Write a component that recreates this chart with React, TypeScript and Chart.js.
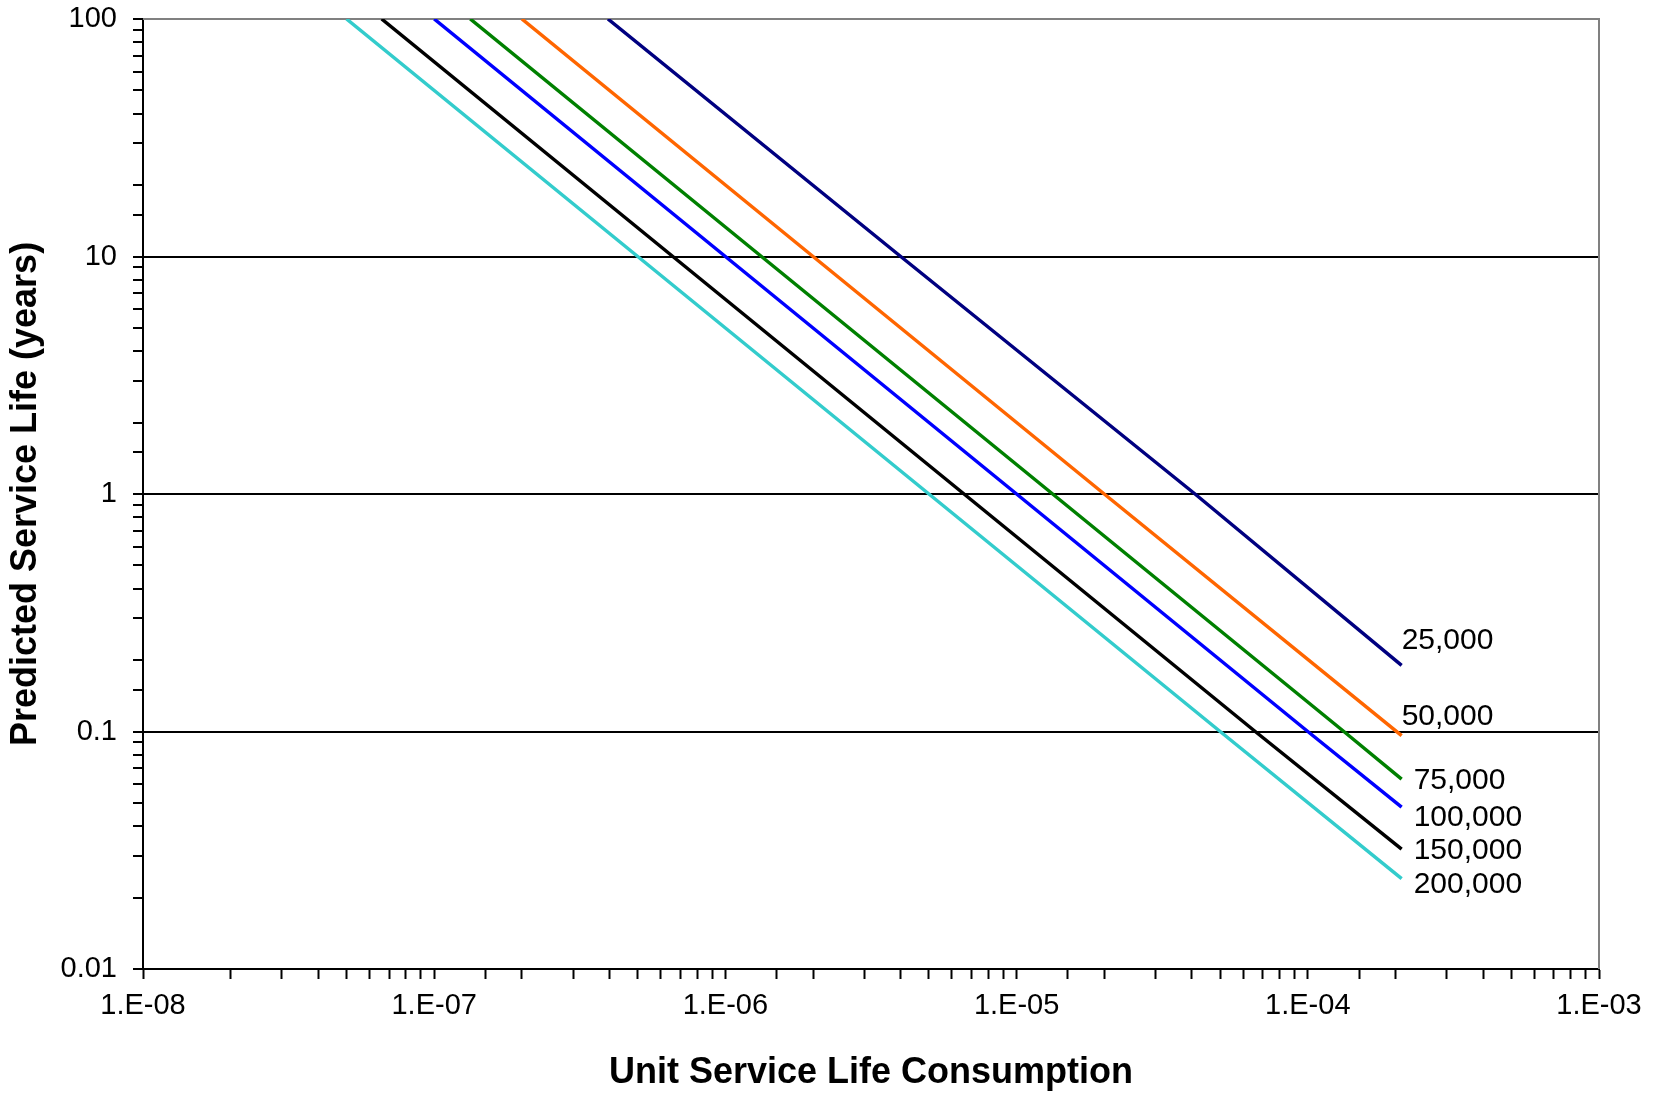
import React, { useEffect, useRef } from "react";
import { Chart, registerables } from "chart.js";

Chart.register(...registerables);

// Series names (label at line end)
const seriesNames = ["25,000", "50,000", "75,000", "100,000", "150,000", "200,000"];
const seriesColors = ["#000080", "#FF6600", "#008000", "#0000FF", "#000000", "#33CCCC"];

// Points: x (unit service life consumption), y (years)
const x25k = [3.95e-7, 4.0e-6, 4.1e-5, 2.1e-4];
const y25k = [100, 10, 1, 0.19];
const x50k = [2.0e-7, 2.0e-6, 2.0e-5, 2.1e-4];
const y50k = [100, 10, 1, 0.096];
const x75k = [1.33e-7, 1.33e-6, 1.33e-5, 1.33e-4, 2.1e-4];
const y75k = [100, 10, 1, 0.1, 0.063];
const x100k = [1.0e-7, 1.0e-6, 1.0e-5, 1.0e-4, 2.1e-4];
const y100k = [100, 10, 1, 0.1, 0.048];
const x150k = [6.6e-8, 6.6e-7, 6.6e-6, 6.6e-5, 2.1e-4];
const y150k = [100, 10, 1, 0.1, 0.032];
const x200k = [5.0e-8, 5.0e-7, 5.0e-6, 5.0e-5, 2.1e-4];
const y200k = [100, 10, 1, 0.1, 0.024];

const seriesX = [x25k, x50k, x75k, x100k, x150k, x200k];
const seriesY = [y25k, y50k, y75k, y100k, y150k, y200k];

// Tick labels
const xTickLabels = ["1.E-08", "1.E-07", "1.E-06", "1.E-05", "1.E-04", "1.E-03"];
const xTickExp = [-8, -7, -6, -5, -4, -3];
const yTickLabels = ["0.01", "0.1", "1", "10", "100"];
const yTickExp = [-2, -1, 0, 1, 2];

const xTitle = "Unit Service Life Consumption";
const yTitle = "Predicted Service Life (years)";

// Label offsets (style) from the last point of each series
const labelDx = [0, 0, 12, 12, 12, 12];
const labelDy = [-25, -19, 2, 11, 2, 6];

const FONT = "'Liberation Sans', Arial, sans-serif";

function majorExp(v: number): number | null {
  const l = Math.log10(v);
  const r = Math.round(l);
  return Math.abs(l - r) < 1e-6 ? r : null;
}

const endLabels = {
  id: "endLabels",
  afterDatasetsDraw(chart: any) {
    const ctx = chart.ctx;
    ctx.save();
    ctx.font = `30px ${FONT}`;
    ctx.fillStyle = "#000";
    ctx.textAlign = "left";
    ctx.textBaseline = "middle";
    chart.data.datasets.forEach((ds: any, i: number) => {
      const meta = chart.getDatasetMeta(i);
      const p = meta.data[meta.data.length - 1];
      if (!p) return;
      ctx.fillText(seriesNames[i], p.x + labelDx[i], p.y + labelDy[i]);
    });
    ctx.restore();
  },
};

const frame = {
  id: "frame",
  beforeDatasetsDraw(chart: any) {
    const { ctx, chartArea } = chart;
    ctx.save();
    ctx.strokeStyle = "#808080";
    ctx.lineWidth = 2;
    ctx.beginPath();
    ctx.moveTo(chartArea.left, chartArea.top);
    ctx.lineTo(chartArea.right, chartArea.top);
    ctx.lineTo(chartArea.right, chartArea.bottom);
    ctx.stroke();
    ctx.restore();
  },
};

export default function App() {
  const ref = useRef<HTMLCanvasElement | null>(null);
  useEffect(() => {
    document.body.style.margin = "0";
    const canvas = ref.current;
    if (!canvas) return;
    const datasets = seriesNames.map((name, i) => ({
      label: name,
      data: seriesX[i].map((x, j) => ({ x, y: seriesY[i][j] })),
      borderColor: seriesColors[i],
      backgroundColor: seriesColors[i],
      borderWidth: 3.5,
      pointRadius: 0,
      tension: 0,
      fill: false,
    }));
    const chart = new Chart(canvas, {
      type: "line",
      data: { datasets },
      plugins: [frame, endLabels],
      options: {
        animation: false,
        responsive: false,
        maintainAspectRatio: false,
        layout: { padding: { top: 19, right: 65, left: 0, bottom: 0 } },
        plugins: { legend: { display: false }, tooltip: { enabled: false } },
        scales: {
          x: {
            type: "logarithmic",
            min: 1e-8,
            max: 1e-3,
            afterFit: (s: any) => {
              s.height = 128;
              s.paddingLeft = 0;
              s.paddingRight = 0;
            },
            border: { display: true, color: "#000", width: 2 },
            grid: {
              drawOnChartArea: false,
              drawTicks: true,
              tickLength: 10,
              tickColor: "#000",
              tickWidth: 2,
            },
            ticks: {
              autoSkip: false,
              maxRotation: 0,
              padding: 10,
              color: "#000",
              font: { family: FONT, size: 29 },
              callback: (v: any) => {
                const e = majorExp(Number(v));
                if (e === null) return "";
                const k = xTickExp.indexOf(e);
                return k >= 0 ? xTickLabels[k] : "";
              },
            },
            title: {
              display: true,
              text: xTitle,
              color: "#000",
              font: { family: FONT, size: 36, weight: "bold" },
              padding: { top: 0, bottom: 2 },
            },
          },
          y: {
            type: "logarithmic",
            min: 0.01,
            max: 100,
            afterFit: (s: any) => {
              s.width = 143;
              s.paddingTop = 0;
              s.paddingBottom = 0;
            },
            border: { display: true, color: "#000", width: 2 },
            grid: {
              drawOnChartArea: true,
              drawTicks: true,
              tickLength: 10,
              tickColor: "#000",
              tickWidth: 2,
              lineWidth: 2,
              color: (c: any) => {
                const v = c.tick ? c.tick.value : NaN;
                const e = majorExp(v);
                if (e === null) return "rgba(0,0,0,0)";
                if (e === 2) return "#808080";
                return "#000";
              },
            },
            ticks: {
              autoSkip: false,
              padding: 16,
              color: "#000",
              font: { family: FONT, size: 29 },
              callback: (v: any) => {
                const e = majorExp(Number(v));
                if (e === null) return "";
                const k = yTickExp.indexOf(e);
                return k >= 0 ? yTickLabels[k] : "";
              },
            },
            title: {
              display: true,
              text: yTitle,
              color: "#000",
              font: { family: FONT, size: 36, weight: "bold" },
              padding: { top: 4, bottom: 0 },
            },
          },
        },
      } as any,
    });
    return () => chart.destroy();
  }, []);
  return (
    <div style={{ width: 1664, height: 1097, background: "#fff" }}>
      <canvas ref={ref} width={1664} height={1097} style={{ display: "block" }} />
    </div>
  );
}
